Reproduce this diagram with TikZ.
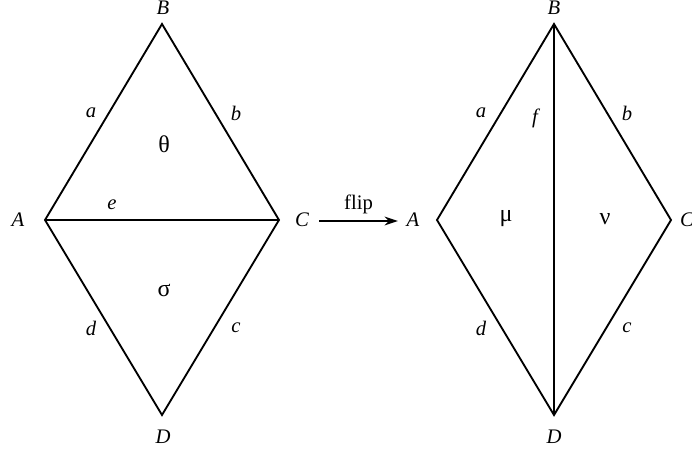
\documentclass[tikz,border=0pt]{standalone}
\usepackage{fontspec}
\setmainfont{Liberation Serif}
\usetikzlibrary{arrows.meta}
\tikzstyle{edge} = [line width=1.4pt, line join=miter]
\tikzstyle{vlabel} = [font=\fontsize{15.5}{18}\selectfont\itshape, inner sep=1pt]
\tikzstyle{face} = [font=\fontsize{15.5}{18}\selectfont, inner sep=1pt]
\tikzstyle{greek} = [font=\fontsize{18}{20}\selectfont, inner sep=1pt]
\tikzstyle{arrow} = [line width=1.4pt,->,>={Stealth[length=10pt,width=6.5pt]}]

\begin{document}
\begin{tikzpicture}[x=0.75pt, y=-0.75pt]
\useasboundingbox (0,0) rectangle (692,451);

% Left rhombus
\coordinate (lA) at (45,220);
\coordinate (lB) at (162,24);
\coordinate (lC) at (279,220);
\coordinate (lD) at (162,415);
\draw[edge] (lA) -- (lB) -- (lC) -- (lD) -- cycle;
\draw[edge] (lA) -- (lC);

\node[vlabel] (lAl) at (18,220) {A};
\node[vlabel] (lBl) at (163,8) {B};
\node[vlabel] (lCl) at (302,220) {C};
\node[vlabel] (lDl) at (163,437) {D};
\node[vlabel] (la) at (91,113) {a};
\node[vlabel] (lb) at (236,113) {b};
\node[vlabel] (ld) at (91,328) {d};
\node[vlabel] (lc) at (236,328) {c};
\node[vlabel] (le) at (112,205) {e};
\node[greek] (theta) at (164,144) {θ};
\node[greek] (sigma) at (164,290) {σ};

% Flip arrow
\coordinate (fs) at (319,221);
\coordinate (fe) at (398,221);
\draw[arrow] (fs) -- node[face, above=4pt] (flip) {flip} (fe);

% Right rhombus
\coordinate (rA) at (437,220);
\coordinate (rB) at (554,24);
\coordinate (rC) at (671,220);
\coordinate (rD) at (554,415);
\draw[edge] (rA) -- (rB) -- (rC) -- (rD) -- cycle;
\draw[edge] (rB) -- (rD);

\node[vlabel] (rAl) at (413,220) {A};
\node[vlabel] (rBl) at (554,8) {B};
\node[vlabel] (rCl) at (687,220) {C};
\node[vlabel] (rDl) at (554,437) {D};
\node[vlabel] (ra) at (481,113) {a};
\node[vlabel] (rb) at (627,113) {b};
\node[vlabel] (rd) at (481,328) {d};
\node[vlabel] (rc) at (627,328) {c};
\node[vlabel] (rf) at (535,118) {f};
\node[greek] (mu) at (506,219) {μ};
\node[greek] (nu) at (605,219) {ν};
\end{tikzpicture}
\end{document}
